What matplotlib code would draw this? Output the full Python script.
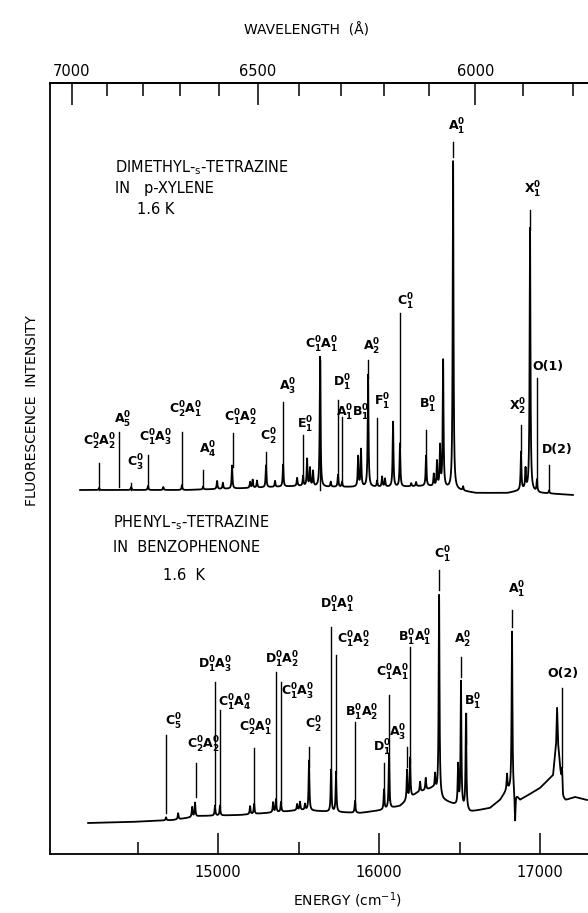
import numpy as np
import matplotlib.pyplot as plt

# энергия в cm^-1, интенсивность в отн. ед.
top_base_E = [14143, 14800, 15200, 15500, 15650, 15900, 16100, 16300, 16480, 16600, 16800, 16900, 17000, 17205]
top_base_I = [0.0, 0.0, 0.02, 0.04, 0.03, 0.03, 0.03, 0.04, 0.0, -0.03, -0.03, 0.0, -0.03, -0.05]
top_pk_E = [14261, 14460, 14565, 14660, 14776, 14907, 14994, 15030, 15087, 15199, 15215, 15242,
            15298, 15354, 15404, 15491, 15528, 15553, 15571, 15590, 15634, 15700, 15745, 15770,
            15870, 15888, 15932, 15988, 16019, 16037, 16087, 16130, 16200, 16230, 16292, 16340,
            16360, 16379, 16398, 16460, 16522, 16882, 16910, 16938, 16981, 17056]
top_pk_I = [0.02, 0.03, 0.04, 0.03, 0.05, 0.03, 0.08, 0.06, 0.23, 0.06, 0.08, 0.07,
            0.22, 0.06, 0.22, 0.08, 0.10, 0.27, 0.18, 0.15, 1.30, 0.05, 0.12, 0.05,
            0.30, 0.37, 1.12, 0.06, 0.10, 0.08, 0.65, 0.43, 0.03, 0.04, 0.30, 0.12,
            0.25, 0.40, 1.27, 3.28, 0.04, 0.38, 0.20, 2.63, 0.12, 0.03]

bot_base_E = [14193, 14453, 14721, 14888, 15137, 15385, 15509, 15714, 15882, 16025, 16130, 16236,
              16335, 16398, 16472, 16565, 16689, 16752, 16795, 16820, 16876, 17000, 17081, 17100,
              17106, 17112, 17125, 17143, 17160, 17217, 17292]
bot_base_I = [0.0, 0.01, 0.03, 0.07, 0.08, 0.11, 0.13, 0.11, 0.10, 0.13, 0.17, 0.30,
              0.35, 0.23, 0.18, 0.11, 0.15, 0.23, 0.33, 0.33, 0.23, 0.35, 0.48, 0.80,
              1.15, 0.80, 0.55, 0.25, 0.23, 0.26, 0.23]
bot_pk_E = [14677, 14752, 14839, 14857, 14981, 15012, 15199, 15224, 15342, 15360, 15391, 15491,
            15509, 15540, 15565, 15702, 15733, 15851, 16031, 16062, 16174, 16193, 16255, 16290,
            16348, 16373, 16491, 16509, 16540, 16795, 16826, 16845, 17137]
bot_pk_I = [0.03, 0.06, 0.10, 0.14, 0.10, 0.10, 0.08, 0.10, 0.10, 0.13, 0.10, 0.06,
            0.08, 0.06, 0.50, 0.42, 0.40, 0.12, 0.20, 0.55, 0.30, 0.40, 0.10, 0.12,
            0.15, 2.00, 0.40, 1.25, 0.95, 0.15, 1.60, -0.30, 0.20]

top_offset = 3.64
bot_offset = 0.31

# подписи: текст, E линии, низ линии, верх линии, E текста, y текста
top_labels = [
    ('C_2^0A_2^0', 14261, 3.64, 3.91, 14267, 4.12),
    ('A_5^0', 14385, 3.67, 4.22, 14410, 4.34),
    ('C_3^0', 14460, 3.64, 3.71, 14484, 3.91),
    ('C_1^0A_3^0', 14565, 3.67, 3.99, 14609, 4.16),
    ('C_2^0A_1^0', 14776, 3.69, 4.22, 14801, 4.44),
    ('A_4^0', 14907, 3.69, 3.84, 14938, 4.04),
    ('C_1^0A_2^0', 15093, 3.87, 4.21, 15137, 4.36),
    ('C_2^0', 15298, 3.74, 4.02, 15311, 4.17),
    ('A_3^0', 15404, 3.74, 4.52, 15435, 4.67),
    ('E_1^0', 15528, 3.74, 4.19, 15540, 4.29),
    ('C_1^0A_1^0', 15634, 3.64, 4.94, 15646, 5.09),
    ('D_1^0', 15745, 3.71, 4.54, 15770, 4.71),
    ('A_1^0B_1^0', 15770, 3.71, 4.37, 15839, 4.41),
    ('A_2^0', 15932, 4.76, 4.94, 15957, 5.07),
    ('F_1^0', 15988, 3.74, 4.36, 16019, 4.52),
    ('C_1^0', 16130, 4.07, 5.41, 16161, 5.52),
    ('B_1^0', 16292, 3.74, 4.24, 16304, 4.49),
    ('A_1^0', 16460, 6.97, 7.12, 16484, 7.27),
    ('X_2^0', 16882, 4.01, 4.29, 16863, 4.47),
    ('X_1^0', 16938, 6.24, 6.44, 16956, 6.64),
    ('O(1)', 16981, 3.71, 4.76, 17050, 4.87),
    ('D(2)', 17056, 3.64, 3.89, 17106, 4.04),
]
bot_labels = [
    ('C_5^0', 14677, 0.41, 1.19, 14721, 1.32),
    ('C_2^0A_2^0', 14863, 0.57, 0.91, 14907, 1.09),
    ('D_1^0A_3^0', 14981, 0.49, 1.72, 14981, 1.89),
    ('C_1^0A_4^0', 15012, 0.47, 1.44, 15106, 1.51),
    ('C_2^0A_1^0', 15224, 0.46, 1.06, 15230, 1.26),
    ('D_1^0A_2^0', 15360, 0.52, 1.82, 15398, 1.94),
    ('C_1^0A_3^0', 15391, 0.51, 1.72, 15491, 1.62),
    ('C_2^0', 15565, 0.87, 1.07, 15590, 1.29),
    ('D_1^0A_1^0', 15702, 0.54, 2.27, 15739, 2.49),
    ('C_1^0A_2^0', 15733, 0.81, 1.99, 15839, 2.14),
    ('B_1^0A_2^0', 15851, 0.49, 1.32, 15894, 1.41),
    ('D_1^0', 16031, 0.57, 0.91, 16019, 1.06),
    ('A_3^0', 16174, 0.87, 1.07, 16118, 1.21),
    ('C_1^0A_1^0', 16062, 0.54, 1.59, 16087, 1.81),
    ('B_1^0A_1^0', 16193, 0.91, 2.07, 16224, 2.16),
    ('C_1^0', 16373, 2.64, 2.84, 16391, 2.99),
    ('A_2^0', 16509, 1.77, 1.97, 16522, 2.14),
    ('B_1^0', 16540, 1.10, 1.41, 16584, 1.52),
    ('A_1^0', 16826, 2.27, 2.44, 16857, 2.64),
    ('O(2)', 17137, 0.87, 1.66, 17143, 1.81),
]

energy_ticks = [15000, 16000, 17000]
energy_minor = [14500, 15500, 16500]
wl_major = [7000, 6500, 6000]
wl_minor = [6900, 6800, 6700, 6600, 6400, 6300, 6200, 6100, 5900, 5800]

gamma = 3.0  # полуширина линий, cm^-1


def spectrum(base_E, base_I, pk_E, pk_I):
    E = np.arange(base_E[0], base_E[-1], 0.5)
    I = np.interp(E, base_E, base_I)
    for e0, h in zip(pk_E, pk_I):
        I += h * gamma ** 2 / ((E - e0) ** 2 + gamma ** 2)
    return E, I


def wl_to_E(wl):
    # шкала длин волн как на исходном рисунке
    return -956 + 1.0533e8 / np.asarray(wl, dtype=float)


plt.rcParams['font.family'] = 'DejaVu Sans'
plt.rcParams['mathtext.default'] = 'regular'

fig = plt.figure(figsize=(5.88, 9.13), dpi=100)
ax = fig.add_axes([49.5 / 588, 59 / 913, 1 - 49.5 / 588, 771 / 913])
ax.set_xlim(13953, 17298)
ax.set_ylim(0, 7.71)

E, I = spectrum(top_base_E, top_base_I, top_pk_E, top_pk_I)
ax.plot(E, I + top_offset, color='black', lw=1.3)
E, I = spectrum(bot_base_E, bot_base_I, bot_pk_E, bot_pk_I)
ax.plot(E, I + bot_offset, color='black', lw=1.3)

for labels in (top_labels, bot_labels):
    for txt, e, y0, y1, tx, ty in labels:
        ax.plot([e, e], [y0, y1], color='black', lw=1.0)
        s = txt if '(' in txt else '$' + txt + '$'
        ax.text(tx, ty, s, ha='center', va='center', fontsize=9, fontweight='bold')

ax.spines['right'].set_visible(False)
for sp in ['left', 'bottom', 'top']:
    ax.spines[sp].set_linewidth(1.3)

ax.set_yticks([])
ax.set_xticks(energy_ticks)
ax.set_xticks(energy_minor, minor=True)
ax.set_xticklabels([str(t) for t in energy_ticks], fontsize=10.5)
ax.tick_params(axis='x', which='major', direction='in', length=15, width=1.1, pad=8)
ax.tick_params(axis='x', which='minor', direction='in', length=9, width=1.1)

ax2 = ax.twiny()
ax2.set_xlim(ax.get_xlim())
ax2.set_ylim(ax.get_ylim())
for sp in ['right', 'left', 'bottom']:
    ax2.spines[sp].set_visible(False)
ax2.spines['top'].set_linewidth(1.3)
ax2.set_xticks(wl_to_E(wl_major))
ax2.set_xticklabels([str(w) for w in wl_major], fontsize=10.5)
ax2.set_xticks(wl_to_E(wl_minor), minor=True)
ax2.tick_params(axis='x', which='major', direction='in', length=16, width=1.1, pad=3)
ax2.tick_params(axis='x', which='minor', direction='in', length=9, width=1.1)

fig.text(307 / 588, 1 - 30 / 913, 'WAVELENGTH  (Å)', ha='center', va='center', fontsize=10)
fig.text(347 / 588, 1 - 900 / 913, 'ENERGY (cm$^{-1}$)', ha='center', va='center', fontsize=10)
fig.text(32 / 588, 1 - 411 / 913, 'FLUORESCENCE  INTENSITY', ha='center', va='center',
         rotation=90, fontsize=10)

fig.text(115 / 588, 1 - 168 / 913, 'DIMETHYL-$_s$-TETRAZINE', ha='left', va='center', fontsize=10.5)
fig.text(115 / 588, 1 - 189 / 913, 'IN   p-XYLENE', ha='left', va='center', fontsize=10.5)
fig.text(137 / 588, 1 - 210 / 913, '1.6 K', ha='left', va='center', fontsize=10.5)
fig.text(113 / 588, 1 - 523 / 913, 'PHENYL-$_s$-TETRAZINE', ha='left', va='center', fontsize=10.5)
fig.text(113 / 588, 1 - 547 / 913, 'IN  BENZOPHENONE', ha='left', va='center', fontsize=10.5)
fig.text(163 / 588, 1 - 575 / 913, '1.6  K', ha='left', va='center', fontsize=10.5)

fig.savefig('out.png', dpi=100)
